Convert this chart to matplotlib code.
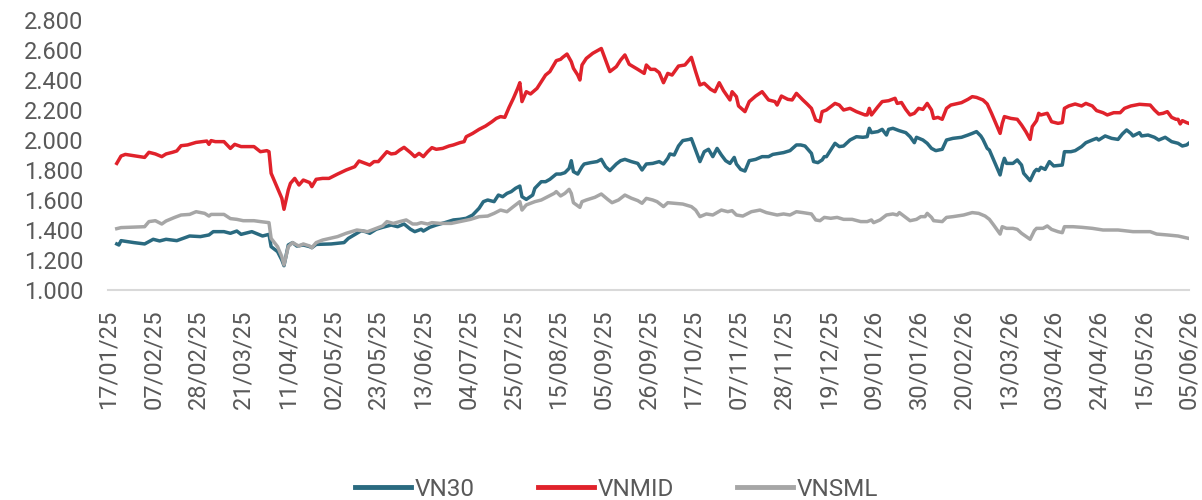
import matplotlib
matplotlib.use("Agg")
import matplotlib.pyplot as plt
import matplotlib.ticker as mticker
import matplotlib.dates as mdates
import pandas as pd

# days counted from 17/01/2025, index level
start = pd.Timestamp("2025-01-17")

vn30 = [(4,1307),(5,1300),(6,1329),(12,1316),(17,1307),(21,1338),(24,1327),(27,1338),(32,1329),(38,1360),
        (43,1356),(47,1367),(49,1389),(54,1389),(57,1378),(60,1393),(62,1371),(67,1389),(72,1360),(75,1371),
        (76,1289),(79,1256),(81,1200),(82,1162),(84,1300),(86,1316),(88,1293),(91,1300),(94,1289),(95,1282),
        (97,1304),(104,1307),(110,1316),(112,1344),(116,1378),(118,1395),(120,1389),(122,1378),(125,1405),(128,1418),
        (132,1433),(135,1422),(138,1440),(141,1405),(143,1389),(146,1405),(147,1393),(150,1418),(153,1433),(157,1449),
        (161,1467),(164,1471),(167,1478),(170,1500),(173,1545),(175,1589),(177,1600),(180,1589),(182,1633),(184,1622),
        (186,1644),(188,1656),(190,1678),(192,1693),(193,1622),(195,1604),(198,1633),(199,1678),(202,1722),(204,1722),
        (206,1738),(209,1773),(211,1773),(213,1782),(215,1811),(216,1862),(217,1789),(219,1773),(221,1822),(222,1840),
        (225,1849),(228,1856),(230,1871),(232,1822),(234,1796),(237,1840),(239,1862),(241,1871),(244,1856),(247,1844),
        (249,1800),(251,1840),(254,1844),(257,1856),(259,1840),(261,1878),(262,1907),(264,1900),(266,1960),(268,1996),
        (271,2004),(272,2009),(274,1933),(276,1856),(278,1922),(280,1938),(282,1889),(284,1944),(286,1900),(288,1862),
        (290,1844),(292,1884),(293,1840),(295,1804),(297,1793),(299,1862),(302,1871),(305,1889),(308,1889),(310,1904),
        (313,1911),(315,1916),(318,1929),(321,1967),(323,1967),(325,1960),(328,1911),(329,1856),(331,1849),(333,1867),
        (334,1889),(335,1889),(337,1933),(339,1978),(341,1956),(343,1960),(346,2000),(349,2022),(352,2018),(354,2022),
        (355,2078),(356,2049),(359,2056),(361,2071),(363,2033),(364,2071),(366,2078),(369,2062),(372,2049),(374,2022),
        (376,1982),(377,2018),(380,2000),(382,1978),(384,1944),(386,1929),(389,1938),(391,2000),(394,2011),(398,2018),
        (401,2033),(403,2044),(405,2056),(407,2027),(408,2004),(410,1944),(411,1933),(413,1867),(415,1800),(416,1767),
        (417,1833),(418,1878),(419,1844),(422,1844),(424,1867),(426,1833),(427,1778),(430,1729),(432,1789),(433,1804),
        (434,1796),(435,1818),(437,1804),(439,1856),(441,1827),(445,1833),(446,1922),(449,1922),(451,1929),(454,1956),
        (456,1982),(459,2000),(461,2011),(462,2000),(465,2027),(468,2011),(471,2004),(473,2040),(475,2067),(477,2044),
        (478,2027),(481,2049),(482,2027),(485,2033),(488,2018),(490,2000),(493,2018),(496,1989),(499,1978),(501,1960),
        (503,1967),(504,1978)]

vnmid = [(4,1844),(6,1893),(8,1904),(17,1884),(19,1918),(22,1907),(25,1889),(27,1907),(30,1918),(32,1927),
         (34,1962),(37,1967),(41,1984),(46,1993),(47,1971),(48,1996),(50,1989),(54,1989),(57,1944),(59,1971),
         (62,1956),(68,1956),(71,1922),(74,1929),(75,1922),(76,1778),(78,1711),(81,1611),(82,1538),(84,1667),
         (85,1711),(87,1744),(89,1700),(91,1733),(94,1716),(95,1689),(97,1738),(100,1744),(103,1744),(107,1773),
         (111,1800),(114,1816),(115,1822),(117,1860),(120,1844),(122,1833),(124,1856),(126,1856),(128,1889),(130,1922),
         (132,1907),(134,1911),(136,1933),(138,1951),(141,1916),(143,1889),(145,1911),(147,1889),(149,1922),(151,1949),
         (153,1938),(156,1944),(159,1960),(161,1967),(164,1982),(166,1989),(167,2022),(170,2044),(173,2071),(176,2093),
         (179,2122),(181,2144),(183,2156),(185,2151),(187,2218),(189,2278),(191,2344),(192,2382),(193,2256),(194,2289),
         (195,2322),(197,2307),(200,2344),(202,2389),(204,2433),(206,2456),(209,2529),(211,2538),(212,2551),(214,2573),
         (216,2522),(217,2478),(219,2433),(220,2400),(221,2500),(223,2544),(226,2578),(230,2610),(232,2533),(234,2456),
         (236,2478),(237,2489),(239,2533),(241,2567),(243,2505),(247,2471),(250,2444),(251,2500),(253,2471),(255,2471),
         (257,2449),(259,2382),(261,2444),(263,2433),(266,2493),(269,2500),(272,2551),(274,2456),(276,2367),(278,2378),
         (281,2338),(283,2322),(285,2382),(287,2329),(290,2267),(291,2322),(293,2289),(294,2227),(297,2189),(299,2256),
         (302,2293),(305,2322),(308,2267),(311,2256),(312,2233),(314,2293),(317,2271),(319,2267),(321,2311),(324,2267),
         (326,2240),(328,2211),(330,2133),(332,2122),(333,2189),(335,2200),(339,2244),(341,2233),(343,2200),(346,2211),
         (349,2189),(353,2167),(354,2167),(355,2211),(356,2167),(359,2222),(361,2256),(364,2262),(367,2278),(368,2244),
         (370,2250),(372,2204),(374,2167),(376,2178),(378,2211),(380,2204),(382,2244),(384,2200),(385,2144),(387,2151),
         (389,2138),(391,2211),(393,2233),(398,2249),(401,2271),(403,2289),(405,2284),(408,2267),(410,2240),(412,2178),
         (414,2111),(416,2044),(417,2111),(418,2156),(421,2144),(424,2138),(426,2100),(428,2056),(430,2004),(431,2089),
         (433,2129),(434,2178),(435,2167),(438,2178),(439,2151),(440,2122),(443,2111),(445,2116),(446,2211),(448,2227),
         (451,2240),(454,2227),(456,2244),(459,2227),(461,2196),(464,2182),(466,2167),(469,2182),(472,2182),(474,2211),
         (477,2227),(481,2238),(486,2233),(488,2200),(490,2173),(492,2178),(494,2189),(496,2151),(498,2138),(499,2138),
         (500,2107),(501,2129),(503,2116),(504,2111)]

vnsml = [(4,1409),(6,1416),(17,1422),(19,1456),(22,1462),(25,1440),(27,1460),(31,1484),(34,1500),(38,1504),
         (41,1522),(45,1511),(47,1493),(48,1504),(54,1504),(57,1476),(60,1471),(63,1462),(68,1462),(71,1456),
         (75,1449),(76,1344),(79,1289),(81,1222),(82,1167),(84,1289),(86,1316),(88,1300),(89,1293),(91,1307),
         (94,1293),(95,1282),(97,1316),(100,1333),(107,1356),(111,1378),(116,1400),(118,1396),(121,1389),(125,1411),
         (128,1427),(130,1456),(133,1444),(136,1456),(139,1467),(142,1440),(144,1440),(146,1449),(149,1440),(151,1449),
         (155,1444),(160,1444),(164,1456),(169,1471),(173,1489),(177,1493),(180,1511),(183,1533),(186,1522),(189,1556),
         (192,1589),(193,1533),(195,1567),(199,1589),(202,1600),(205,1622),(208,1644),(209,1656),(211,1627),(213,1644),
         (215,1671),(216,1644),(217,1582),(220,1551),(221,1589),(223,1600),(227,1618),(230,1640),(233,1604),(235,1582),
         (238,1600),(241,1633),(244,1612),(247,1596),(249,1578),(251,1611),(254,1600),(256,1589),(259,1556),(261,1582),
         (264,1578),(268,1573),(272,1556),(274,1533),(276,1489),(279,1507),(282,1500),(286,1533),(289,1522),(291,1529),
         (293,1500),(296,1493),(300,1522),(304,1533),(307,1516),(312,1500),(315,1507),(318,1500),(321,1522),(324,1516),
         (328,1507),(330,1467),(332,1462),(334,1484),(337,1478),(340,1484),(343,1471),(347,1471),(351,1456),(354,1456),
         (356,1467),(357,1449),(360,1467),(363,1500),(366,1507),(368,1500),(369,1516),(372,1484),(374,1462),(377,1471),
         (379,1489),(381,1489),(382,1511),(384,1484),(385,1462),(389,1456),(391,1484),(394,1489),(399,1500),(403,1516),
         (406,1511),(409,1493),(411,1471),(413,1433),(416,1373),(417,1422),(419,1411),(422,1411),(424,1404),(426,1378),
         (430,1338),(432,1396),(433,1411),(436,1411),(438,1427),(440,1404),(443,1389),(445,1382),(446,1422),(450,1422),
         (454,1418),(459,1411),(464,1400),(471,1400),(478,1389),(486,1389),(489,1373),(494,1367),(499,1360),(504,1344)]

series = [("VN30", vn30, "#2a6a80"), ("VNMID", vnmid, "#e0222b"), ("VNSML", vnsml, "#a6a6a6")]

tick_dates = pd.date_range("2025-01-17", "2026-06-05", freq="21D")

plt.rcParams["font.family"] = ["Roboto", "DejaVu Sans"]
txt_color = "#595959"

fig = plt.figure(figsize=(12.02, 5.0), dpi=100)
ax = fig.add_axes([0.09, 0.42, 0.899, 0.54])

for name, data, col in series:
    days = [d for d, v in data]
    vals = [v for d, v in data]
    dates = start + pd.to_timedelta(days, unit="D")
    ax.plot(dates, vals, color=col, lw=2.5, label=name, solid_joinstyle="round")

ax.set_ylim(1000, 2800)
ax.set_xlim(tick_dates[0], tick_dates[-1])
ax.yaxis.set_major_locator(mticker.MultipleLocator(200))
ax.yaxis.set_major_formatter(mticker.FuncFormatter(lambda v, p: f"{v:,.0f}".replace(",", ".")))
ax.set_xticks(tick_dates)
ax.xaxis.set_major_formatter(mdates.DateFormatter("%d/%m/%y"))

for s in ["top", "right", "left"]:
    ax.spines[s].set_visible(False)
ax.spines["bottom"].set_color("#d9d9d9")
ax.spines["bottom"].set_linewidth(1.5)

ax.tick_params(axis="both", length=0, labelsize=17, labelcolor=txt_color)
ax.tick_params(axis="y", pad=18)
ax.tick_params(axis="x", pad=14, labelrotation=90)

leg = fig.legend(loc="lower center", bbox_to_anchor=(0.513, -0.045), ncol=3, frameon=False,
                 fontsize=17.5, handlelength=2.3, handletextpad=0.15, columnspacing=2.6)
for line in leg.get_lines():
    line.set_linewidth(3.5)
for t in leg.get_texts():
    t.set_color(txt_color)

fig.savefig("out.png", dpi=100)
